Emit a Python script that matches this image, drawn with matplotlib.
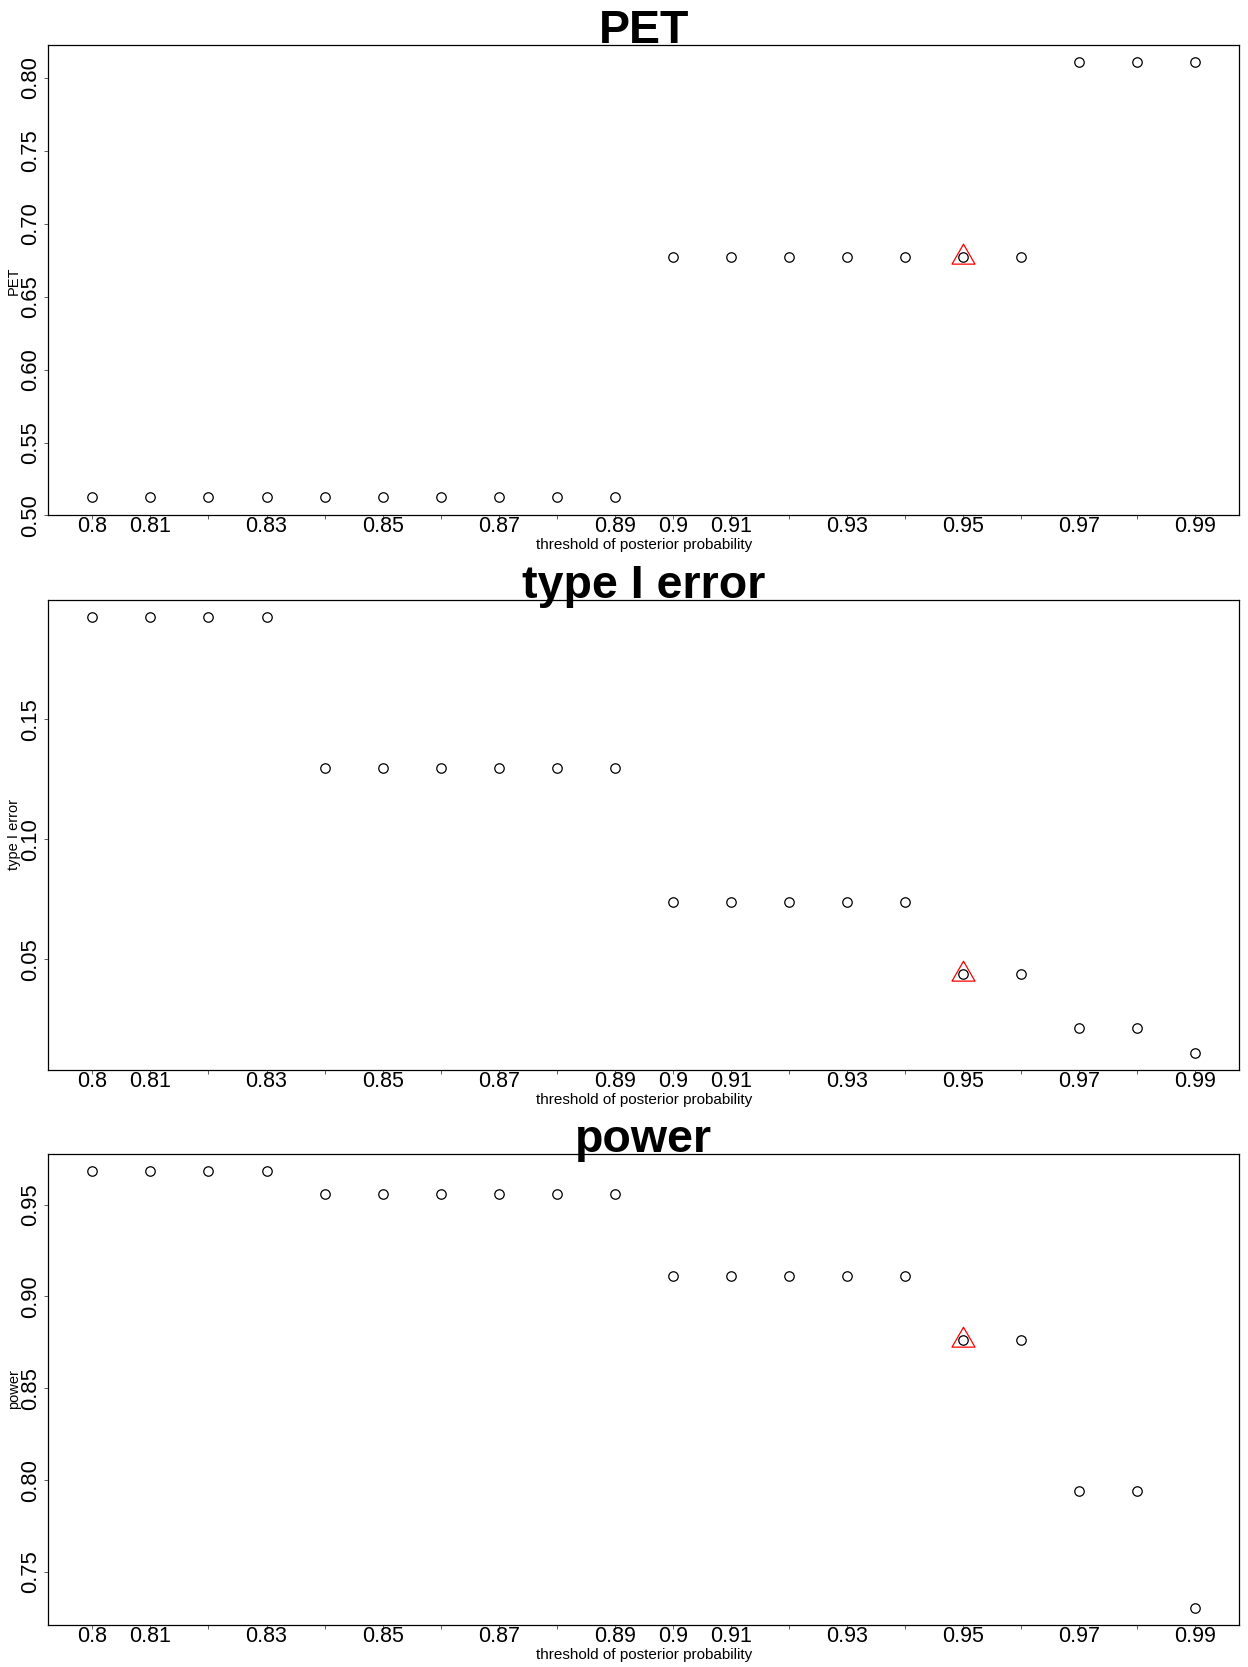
import matplotlib
matplotlib.use('Agg')
import matplotlib.pyplot as plt
from matplotlib.path import Path

plt.rcParams['font.family'] = ['Liberation Sans', 'DejaVu Sans']

# ---------------- data ----------------
thresholds = [0.80, 0.81, 0.82, 0.83, 0.84, 0.85, 0.86, 0.87, 0.88, 0.89,
              0.90, 0.91, 0.92, 0.93, 0.94, 0.95, 0.96, 0.97, 0.98, 0.99]
x_tick_labels = ['0.8', '0.81', '', '0.83', '', '0.85', '', '0.87', '', '0.89',
                 '0.9', '0.91', '', '0.93', '', '0.95', '', '0.97', '', '0.99']

pet = [0.5125, 0.5125, 0.5125, 0.5125, 0.5125, 0.5125, 0.5125, 0.5125, 0.5125, 0.5125,
       0.677, 0.677, 0.677, 0.677, 0.677, 0.677, 0.677, 0.8105, 0.8105, 0.8105]
type1 = [0.1924, 0.1924, 0.1924, 0.1924, 0.1299, 0.1299, 0.1299, 0.1299, 0.1299, 0.1299,
         0.0737, 0.0737, 0.0737, 0.0737, 0.0737, 0.044, 0.044, 0.0214, 0.0214, 0.0112]
power = [0.968, 0.968, 0.968, 0.968, 0.9556, 0.9556, 0.9556, 0.9556, 0.9556, 0.9556,
         0.911, 0.911, 0.911, 0.911, 0.911, 0.8764, 0.8764, 0.7938, 0.7938, 0.7306]

chosen_threshold = 0.95

titles = ['PET', 'type I error', 'power']
ylabels = ['PET', 'type I error', 'power']
series = [pet, type1, power]
yticks = [[0.50, 0.55, 0.60, 0.65, 0.70, 0.75, 0.80],
          [0.05, 0.10, 0.15],
          [0.75, 0.80, 0.85, 0.90, 0.95]]
ytick_labels = [['0.50', '0.55', '0.60', '0.65', '0.70', '0.75', '0.80'],
                ['0.05', '0.10', '0.15'],
                ['0.75', '0.80', '0.85', '0.90', '0.95']]
xlabel = 'threshold of posterior probability'

# ---------------- figure ----------------
W, H = 1248, 1667
fig = plt.figure(figsize=(W / 100, H / 100), dpi=100)

left_px, right_px = 48.3, 1239.3
panel_px = [(45.0, 515.5), (600.0, 1070.0), (1154.0, 1625.0)]

# R's pch=2 triangle (centroid-centred)
tri = Path([(-1.3468, -0.7776), (1.3468, -0.7776), (0.0, 1.5551), (-1.3468, -0.7776)],
           [Path.MOVETO, Path.LINETO, Path.LINETO, Path.CLOSEPOLY])

for i in range(3):
    top, bot = panel_px[i]
    ax = fig.add_axes([left_px / W, 1 - bot / H, (right_px - left_px) / W, (bot - top) / H])
    y = series[i]
    ax.plot(thresholds, y, linestyle='none', marker='o', ms=6.8, mfc='none',
            mec='black', mew=0.9)
    idx = thresholds.index(chosen_threshold)
    ax.plot([thresholds[idx]], [y[idx]], linestyle='none', marker=tri, ms=19.1,
            mfc='none', mec='red', mew=0.9)
    ax.margins(x=0.04, y=0.04)

    ax.set_xticks(thresholds)
    ax.set_xticklabels(x_tick_labels, fontsize=15.5)
    ax.set_yticks(yticks[i])
    ax.set_yticklabels(ytick_labels[i], fontsize=15.8, rotation=90, va='center')
    ax.tick_params(axis='x', direction='out', length=3, width=0.6, pad=-2.6, color='#444444')
    ax.tick_params(axis='y', direction='out', length=3, width=0.6, pad=2.0, color='#444444')

    for sp in ax.spines.values():
        sp.set_linewidth(0.9)
        sp.set_color('black')

    ax.set_title(titles[i], fontsize=33.5, fontweight='bold', y=1.0, pad=1.8)
    ax.set_xlabel(xlabel, fontsize=11)
    ax.xaxis.set_label_coords(0.5, -23.0 / (bot - top))
    ax.set_ylabel(ylabels[i], fontsize=10.5)
    ax.yaxis.set_label_coords((21.0 - left_px) / (right_px - left_px), 0.5)

fig.savefig('out.png', dpi=100)
